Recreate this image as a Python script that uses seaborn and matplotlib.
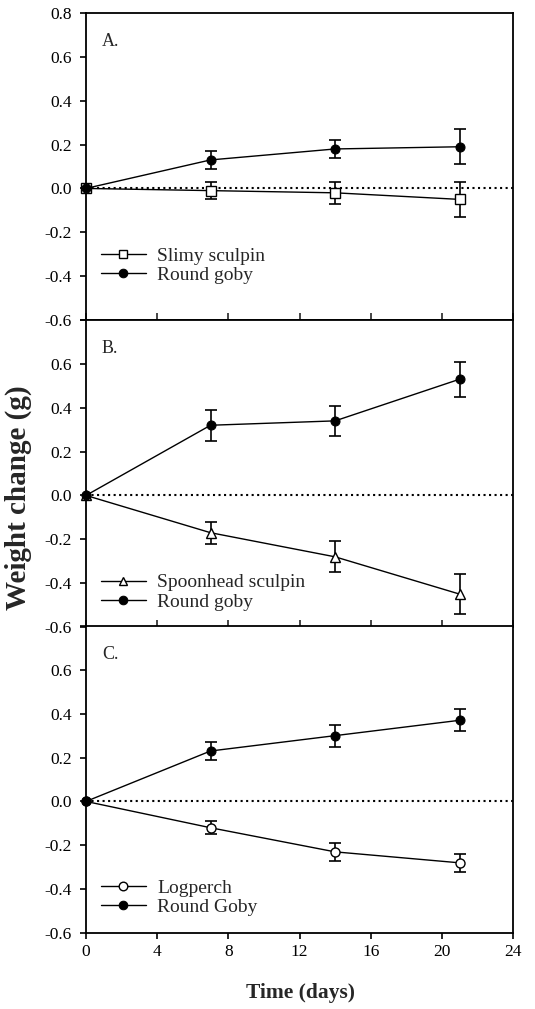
import pandas as pd
import numpy as np
import matplotlib.pyplot as plt
import seaborn as sns

sns.set_style("ticks")
plt.rcParams['font.family'] = ['Liberation Serif', 'DejaVu Serif']

days = [0, 7, 14, 21]

# panel A
slimy = [0.0, -0.01, -0.02, -0.05]
slimy_err = [0.0, 0.04, 0.05, 0.08]
goby_a = [0.0, 0.13, 0.18, 0.19]
goby_a_err = [0.0, 0.04, 0.04, 0.08]

# panel B
spoon = [0.0, -0.17, -0.28, -0.45]
spoon_err = [0.0, 0.05, 0.07, 0.09]
goby_b = [0.0, 0.32, 0.34, 0.53]
goby_b_err = [0.0, 0.07, 0.07, 0.08]

# panel C
logperch = [0.0, -0.12, -0.23, -0.28]
logperch_err = [0.0, 0.03, 0.04, 0.04]
goby_c = [0.0, 0.23, 0.30, 0.37]
goby_c_err = [0.0, 0.04, 0.05, 0.05]

panels = [
    ('A.', 'Slimy sculpin', 's', slimy, slimy_err, 'Round goby', goby_a, goby_a_err, 0.117),
    ('B.', 'Spoonhead sculpin', '^', spoon, spoon_err, 'Round goby', goby_b, goby_b_err, 0.052),
    ('C.', 'Logperch', 'o', logperch, logperch_err, 'Round Goby', goby_c, goby_c_err, 0.055),
]

fig = plt.figure(figsize=(5.35, 10.09), dpi=100)
left, width, h = 86 / 535, 427 / 535, 307 / 1009
bottoms = [(1009 - 320) / 1009, (1009 - 627) / 1009, (1009 - 933) / 1009]

for i, (tag, name1, mk, y1, e1, name2, y2, e2, leg_y) in enumerate(panels):
    ax = fig.add_axes([left, bottoms[i], width, h])
    sns.lineplot(x=days, y=y1, ax=ax, color='k', lw=1, marker=mk, ms=6.5,
                 markerfacecolor='white', markeredgecolor='k', markeredgewidth=1,
                 label=name1, clip_on=False, zorder=4)
    sns.lineplot(x=days, y=y2, ax=ax, color='k', lw=1, marker='o', ms=6.5,
                 markerfacecolor='k', markeredgecolor='k',
                 label=name2, clip_on=False, zorder=4)
    ax.errorbar(days[1:], y1[1:], yerr=e1[1:], fmt='none', ecolor='k',
                elinewidth=1.2, capsize=4, capthick=1.2, zorder=3)
    ax.errorbar(days[1:], y2[1:], yerr=e2[1:], fmt='none', ecolor='k',
                elinewidth=1.2, capsize=4, capthick=1.2, zorder=3)
    ax.axhline(0, color='k', ls=':', lw=1.5, zorder=2)

    ax.set_xlim(0, 24)
    ax.set_ylim(-0.6, 0.8)
    ax.set_xticks(np.arange(0, 25, 4))
    ax.set_yticks(np.arange(-0.6, 0.81, 0.2))
    ylabs = ['%.1f' % v for v in np.arange(-0.6, 0.81, 0.2)]
    ylabs = [s.replace('-0.0', '0.0') for s in ylabs]
    if i > 0:
        ylabs[-1] = ''
    ax.set_yticklabels(ylabs)
    for sp in ax.spines.values():
        sp.set_visible(True)
        sp.set_linewidth(1.3)
        sp.set_color('k')
    ax.tick_params(axis='y', direction='out', length=4, width=1.2, labelsize=12.5,
                   colors='k', pad=6)
    if i < 2:
        ax.tick_params(axis='x', direction='in', length=5, width=1.2, labelbottom=False)
    else:
        ax.tick_params(axis='x', direction='out', length=4, width=1.2, labelsize=12.5,
                       colors='k', pad=4)
    ax.text(0.037, 0.907, tag, transform=ax.transAxes, fontsize=13, va='center')
    ax.legend(loc='lower left', bbox_to_anchor=(0.035, leg_y), frameon=False,
              fontsize=14, handlelength=2.3, handletextpad=0.6, labelspacing=0.1,
              borderaxespad=0, borderpad=0, markerscale=0.95)
    ax.set_xlabel('')
    ax.set_ylabel('')

fig.text(0.035, 1 - 498 / 1009, 'Weight change (g)', rotation=90, ha='center',
         va='center', fontsize=21, fontweight='bold')
fig.text(left + width / 2 + 0.002, 1 - 993 / 1009, 'Time (days)', ha='center',
         va='center', fontsize=15.5, fontweight='bold')

fig.savefig('out.png', dpi=100)
